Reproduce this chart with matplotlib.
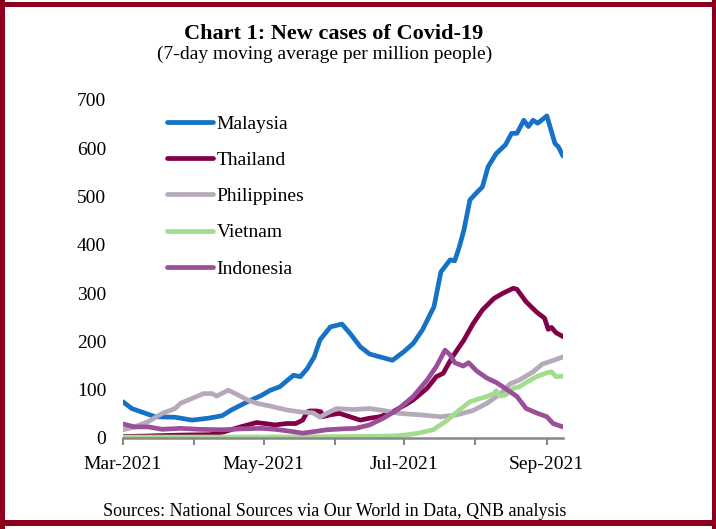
import matplotlib
matplotlib.use("Agg")
import matplotlib.pyplot as plt
import matplotlib.dates as mdates
from matplotlib.patches import Rectangle
import pandas as pd

plt.rcParams['font.family'] = ['Liberation Serif', 'DejaVu Serif']

START = pd.Timestamp('2021-03-01')

# day offsets from 1 Mar 2021 and 7-day avg new cases per million
mys_days = [0, 3.8, 8, 14, 22.6, 30, 37, 43, 47, 54, 60, 64, 68, 74, 77, 80, 83, 85.5, 90, 95,
            98.5, 103, 107, 111.5, 117, 122, 126, 130, 135, 138, 142, 144, 146, 148, 150.6,
            153.5, 156, 158.5, 162, 166, 168.7, 171, 174, 176, 178, 180, 184, 187.5, 189, 191]
mys_vals = [75, 61, 54, 44, 43, 37, 41, 46, 58, 75, 88, 99, 106, 130, 127, 144, 168, 203, 230, 236,
            217, 189, 174, 168, 161, 179, 196, 224, 272, 344, 369, 367, 396, 431, 493,
            508, 520, 562, 589, 607, 631, 631, 658, 645, 658, 652, 667, 610, 603, 584]

tha_days = [0, 10, 17, 25, 38, 44, 51, 58, 63, 66, 71, 75, 78, 80, 81, 84, 86, 86.5, 90, 94,
            98.5, 103, 107, 111.5, 117, 120, 123, 126, 132, 136, 139, 143, 148, 152, 156, 161,
            165, 169.4, 171, 175, 179.5, 183, 184.6, 186, 188, 191]
tha_vals = [3, 4, 5, 6, 7, 13, 23, 32, 29, 27, 30, 30, 37, 54, 56, 56, 54, 44, 48, 51,
            44, 37, 41, 44, 54, 62, 70, 79, 103, 127, 134, 168, 203, 237, 265, 289,
            300, 310, 308, 282, 261, 248, 225, 229, 218, 210]

phl_days = [0, 5, 11, 17, 22.6, 25, 30, 35, 38.6, 40.7, 45.7, 50, 54, 58, 64, 71, 77, 82.6, 85.5,
            88.4, 92.7, 100, 107, 113, 120, 129, 138, 145, 152, 158, 164, 168, 172, 178, 182, 187, 191]
phl_vals = [17, 23, 34, 51, 61, 72, 82, 92, 92, 87, 99, 89, 79, 72, 66, 58, 54, 52, 43,
            51, 61, 59, 61, 57, 51, 48, 44, 48, 57, 72, 92, 112, 120, 137, 153, 161, 168]

vnm_days = [0, 60, 100, 115, 120, 124, 128, 134.6, 140, 146, 150.6, 155, 158, 161, 162, 163.6,
            166, 169.4, 172, 175, 179.5, 184, 186, 188, 191]
vnm_vals = [2, 2, 3, 4, 5, 7, 10, 17, 34, 58, 75, 82, 86, 92, 98, 87,
            89, 103, 106, 115, 127, 135, 137, 127, 128]

idn_days = [0, 5, 11, 17, 25, 33, 43, 51.6, 60, 66, 74, 78, 82.6, 88.4, 95.6, 101, 107, 113, 119,
            126, 132, 136, 139.8, 142, 144, 147.7, 150, 153.5, 158, 162, 166.5, 171, 175, 179.5,
            184, 186.7, 191]
idn_vals = [29, 23, 23, 18, 20, 18, 17, 19, 20, 18, 13, 10, 13, 17, 19, 20, 27, 41, 58,
            86, 120, 148, 182, 172, 156, 149, 156, 139, 124, 115, 101, 86, 61, 52,
            44, 30, 23]

series = [
    ("Malaysia", mys_days, mys_vals, "#1572C6"),
    ("Thailand", tha_days, tha_vals, "#820048"),
    ("Philippines", phl_days, phl_vals, "#B5A9BA"),
    ("Vietnam", vnm_days, vnm_vals, "#A2DC8E"),
    ("Indonesia", idn_days, idn_vals, "#9A4F98"),
]

yticks = [0, 100, 200, 300, 400, 500, 600, 700]

W, H = 716, 529
fig = plt.figure(figsize=(W / 100, H / 100), dpi=100)
fig.patch.set_facecolor("white")

ax = fig.add_axes([123 / W, 91 / H, 440 / W, 338 / H])
for name, d, v, c in series:
    dates = START + pd.to_timedelta(d, unit="D")
    ax.plot(dates, v, color=c, lw=3.4, label=name, solid_capstyle="round", solid_joinstyle="round")

ax.set_xlim(START, START + pd.Timedelta(days=191))
ax.set_ylim(0, 700)
ax.set_yticks(yticks)
ax.set_yticklabels([str(t) for t in yticks], fontsize=14)
ax.tick_params(axis="y", length=0, pad=12)

ax.xaxis.set_major_locator(mdates.MonthLocator())
def fmt(x, pos):
    d = mdates.num2date(x)
    return d.strftime("%b-%Y") if d.month % 2 == 1 else ""
ax.xaxis.set_major_formatter(plt.FuncFormatter(fmt))
ax.tick_params(axis="x", direction="out", length=5, width=1.5, color="#888888", labelsize=14, pad=8)

for s in ["top", "right", "left"]:
    ax.spines[s].set_visible(False)
ax.spines["bottom"].set_color("#888888")
ax.spines["bottom"].set_linewidth(1.8)

leg = ax.legend(loc="upper left", bbox_to_anchor=(167 / W, 1 - 115 / H), bbox_transform=fig.transFigure,
                frameon=False, fontsize=14, handlelength=2.35, handletextpad=0.2, labelspacing=0.96,
                borderpad=0, borderaxespad=0)
for ln in leg.get_lines():
    ln.set_linewidth(3.4)

fig.text(334 / W, 1 - 34 / H, "Chart 1: New cases of Covid-19", ha="center", va="center",
         fontsize=16, fontweight="bold")
fig.text(325 / W, 1 - 54 / H, "(7-day moving average per million people)", ha="center", va="center",
         fontsize=14)
fig.text(335 / W, 1 - 511 / H, "Sources: National Sources via Our World in Data, QNB analysis",
         ha="center", va="center", fontsize=13)

bc = "#8C001E"
for (x0, y0, w, h) in [(0, 0, 5, H), (0, 2, W, 5), (712, 0, 4, H), (0, 520, W, 6)]:
    fig.add_artist(Rectangle((x0 / W, 1 - (y0 + h) / H), w / W, h / H, transform=fig.transFigure,
                             facecolor=bc, edgecolor="none"))

fig.savefig("out.png", dpi=100)
